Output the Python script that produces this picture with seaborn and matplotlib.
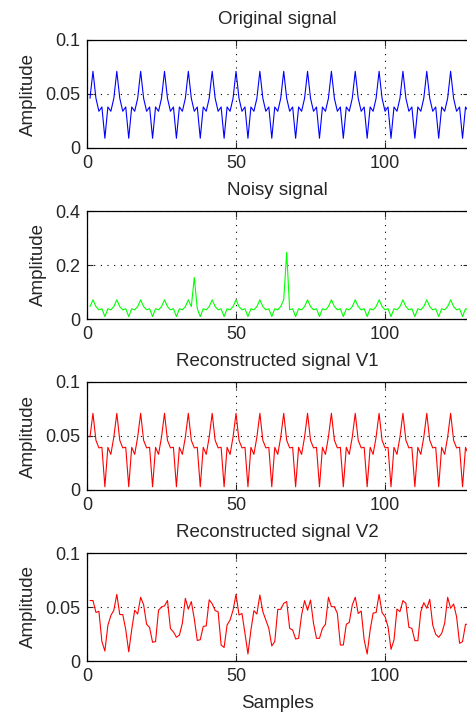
import numpy as np
import pandas as pd
import matplotlib
matplotlib.use("Agg")
import matplotlib.pyplot as plt
import seaborn as sns

# --- data ---
samples = np.arange(1, 129)

# one period (8 samples) of the clean signal and of reconstruction V1
original_period = [0.046, 0.071, 0.046, 0.034, 0.038, 0.009, 0.038, 0.034]
recon_v1_period = [0.049, 0.071, 0.046, 0.039, 0.0395, 0.003, 0.0395, 0.033]

# impulsive noise added to the original signal
spike_positions = [36, 67]
spike_values = [0.154, 0.247]

recon_v2 = [
    0.056, 0.056, 0.045, 0.046, 0.018, 0.0092, 0.033, 0.042,
    0.047, 0.0617, 0.043, 0.043, 0.029, 0.0085, 0.029, 0.047,
    0.0435, 0.059, 0.052, 0.034, 0.031, 0.0173, 0.018, 0.047,
    0.050, 0.051, 0.056, 0.030, 0.027, 0.022, 0.024, 0.035,
    0.058, 0.048, 0.055, 0.039, 0.019, 0.0197, 0.032, 0.0325,
    0.0567, 0.053, 0.0467, 0.0455, 0.0148, 0.0125, 0.0333, 0.038,
    0.047, 0.0617, 0.0426, 0.044, 0.0256, 0.0065, 0.0287, 0.0466,
    0.0435, 0.0611, 0.0457, 0.038, 0.0302, 0.0139, 0.018, 0.0478,
    0.0478, 0.0534, 0.055, 0.0302, 0.0287, 0.0204, 0.021, 0.0426,
    0.0559, 0.047, 0.0565, 0.0349, 0.021, 0.021, 0.0302, 0.034,
    0.059, 0.0503, 0.0503, 0.0441, 0.0148, 0.0148, 0.034, 0.0358,
    0.0518, 0.059, 0.044, 0.0463, 0.0194, 0.0065, 0.0287, 0.0444,
    0.0448, 0.0617, 0.0448, 0.041, 0.0318, 0.0108, 0.0194, 0.0481,
    0.0457, 0.0559, 0.0534, 0.0312, 0.0302, 0.0188, 0.0188, 0.0457,
    0.054, 0.0488, 0.0571, 0.0333, 0.0247, 0.022, 0.0256, 0.0349,
    0.059, 0.0488, 0.0528, 0.041, 0.0164, 0.0179, 0.034, 0.034,
]

original = np.tile(original_period, 16)
noisy = original.copy()
for pos, val in zip(spike_positions, spike_values):
    noisy[pos - 1] = val
recon_v1 = np.tile(recon_v1_period, 16)

titles = ["Original signal", "Noisy signal",
          "Reconstructed signal V1", "Reconstructed signal V2"]
series = [original, noisy, recon_v1, np.array(recon_v2)]
colors = ["#0000ff", "#00ff00", "#ff0000", "#ff0000"]
yticks = [[0, 0.05, 0.1], [0, 0.2, 0.4], [0, 0.05, 0.1], [0, 0.05, 0.1]]
ytick_labels = [["0", "0.05", "0.1"], ["0", "0.2", "0.4"],
                ["0", "0.05", "0.1"], ["0", "0.05", "0.1"]]

# --- styling (MATLAB look) ---
sns.set_style("ticks")
plt.rcParams['font.family'] = ['Liberation Sans', 'DejaVu Sans']
plt.rcParams['xtick.direction'] = 'in'
plt.rcParams['ytick.direction'] = 'in'

fig = plt.figure(figsize=(4.67, 7.17), dpi=100)
W, H = 467.0, 717.0
tops = [40, 211, 382, 553]

for i in range(4):
    ax = fig.add_axes([87 / W, 1 - (tops[i] + 108) / H, 381.5 / W, 108 / H])
    df = pd.DataFrame({"Samples": samples, "Amplitude": series[i]})
    sns.lineplot(data=df, x="Samples", y="Amplitude", color=colors[i],
                 linewidth=0.8, ax=ax)
    ax.set_xlim(0, 128)
    ax.set_ylim(yticks[i][0], yticks[i][-1])
    ax.set_xticks([0, 50, 100])
    ax.set_xticklabels(["0", "50", "100"])
    ax.set_yticks(yticks[i])
    ax.set_yticklabels(ytick_labels[i])
    ax.grid(True, linestyle=(0, (1, 5)), color="black", linewidth=0.8)
    ax.tick_params(labelsize=13, length=4, width=0.8, top=True, right=True, pad=5)
    for sp in ax.spines.values():
        sp.set_visible(True)
        sp.set_linewidth(0.9)
        sp.set_color("black")
    ax.set_title(titles[i], fontsize=13.5, pad=11.5)
    ax.set_ylabel("Amplitude", fontsize=13.5, labelpad=6)
    if i == 3:
        ax.set_xlabel("Samples", fontsize=13.5, labelpad=7)
    else:
        ax.set_xlabel("")

plt.savefig("out.png", dpi=100)
